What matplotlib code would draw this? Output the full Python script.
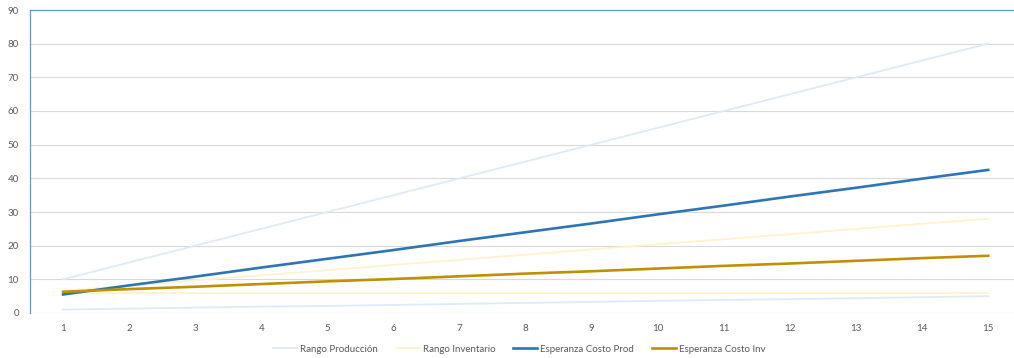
import matplotlib
matplotlib.use('Agg')
import matplotlib.pyplot as plt

plt.rcParams['font.family'] = ['Lato', 'DejaVu Sans']

periodos = list(range(1, 16))

# Rango de produccion (minimo y maximo) y su esperanza
prod_min = [1.0, 1.3, 1.6, 1.9, 2.1, 2.4, 2.7, 3.0, 3.3, 3.6, 3.9, 4.1, 4.4, 4.7, 5.0]
prod_max = [10, 15, 20, 25, 30, 35, 40, 45, 50, 55, 60, 65, 70, 75, 80]
esp_prod = [5.5, 8.2, 10.8, 13.5, 16.1, 18.7, 21.4, 24.0, 26.6, 29.3, 31.9, 34.6, 37.2, 39.9, 42.5]

# Rango de inventario (minimo y maximo) y su esperanza
inv_min = [6.0] * 15
inv_max = [6.6, 8.1, 9.7, 11.2, 12.7, 14.3, 15.8, 17.3, 18.9, 20.4, 21.9, 23.4, 25.0, 26.5, 28.0]
esp_inv = [6.3, 7.1, 7.8, 8.6, 9.4, 10.1, 10.9, 11.7, 12.4, 13.2, 14.0, 14.7, 15.5, 16.3, 17.0]

c_prod_rng = '#DDEBF7'
c_inv_rng = '#FFF2CC'
c_prod = '#2E75B6'
c_inv = '#BF9000'

fig = plt.figure(figsize=(10.14, 3.58), dpi=100)
ax = fig.add_axes([30 / 1014, 45 / 358, 984 / 1014, 303 / 358])

ax.plot(periodos, prod_max, color=c_prod_rng, lw=1.3, label='Rango Producción')
ax.plot(periodos, prod_min, color=c_prod_rng, lw=1.3)
ax.plot(periodos, inv_max, color=c_inv_rng, lw=1.3, label='Rango Inventario')
ax.plot(periodos, inv_min, color=c_inv_rng, lw=1.3)
ax.plot(periodos, esp_prod, color=c_prod, lw=1.9, label='Esperanza Costo Prod')
ax.plot(periodos, esp_inv, color=c_inv, lw=1.9, label='Esperanza Costo Inv')

ax.set_xlim(0.5, 15.39)
ax.set_ylim(0, 90)
ax.set_xticks(periodos)
ax.set_yticks(range(0, 91, 10))
ax.grid(axis='y', color='#D9D9D9', lw=0.8)
ax.set_axisbelow(True)
ax.tick_params(length=0, labelsize=7, labelcolor='#595959')
ax.tick_params(axis='x', pad=8)
ax.tick_params(axis='y', pad=8)

for s in ['right', 'bottom']:
    ax.spines[s].set_visible(False)
for s in ['left', 'top']:
    ax.spines[s].set_color('#5B9BD5')
    ax.spines[s].set_linewidth(0.9)

fig.legend(loc='center', bbox_to_anchor=(0.512, 0.025), ncol=4, frameon=False,
           fontsize=7, handlelength=2.5, handletextpad=0.3, columnspacing=1.8,
           labelcolor='#595959')

fig.savefig('out.png', dpi=100)
